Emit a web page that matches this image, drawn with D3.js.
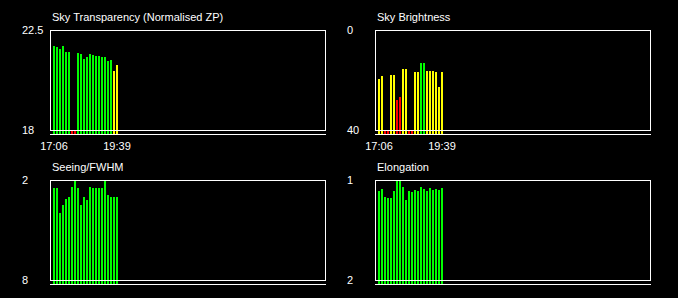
<!DOCTYPE html>
<html>
<head>
<meta charset="utf-8">
<script src="https://cdn.jsdelivr.net/npm/d3@7"></script>
<style>
  html, body { margin: 0; padding: 0; background: #000; }
  svg { display: block; }
  text { font-family: Arial, "Liberation Sans", sans-serif; font-size: 11px; fill: #fff; }
</style>
</head>
<body>
<div id="chart"></div>
<script>
// observation times (one bar each)
const times = ['17:06', '17:13', '17:20', '17:28', '17:35', '17:42', '17:50', '17:57', '18:04', '18:12', '18:19',
  '18:26', '18:33', '18:41', '18:48', '18:55', '19:03', '19:10', '19:17', '19:25', '19:32', '19:39']
const transparency = [21.78, 21.74, 21.65, 21.78, 21.51, 21.51, 17.8, 17.8, 21.47, 21.42, 21.2,
  21.29, 21.42, 21.38, 21.33, 21.33, 21.29, 21.29, 21.11, 21.15, 20.66, 20.93]
const brightness = [19.6, 18.4, 41, 41, 18, 18, 28, 26.8, 15.6, 15.6, 41,
  41, 16.8, 16.8, 13.2, 13.2, 16.4, 16.4, 16.4, 16.8, 22.8, 16.8]
const seeing = [2.48, 2.48, 3.98, 3.5, 3.14, 3.02, 2.42, 2.0, 2.48, 3.5, 3.02,
  3.2, 2.42, 2.48, 2.48, 2.48, 2.48, 2.0, 2.9, 3.02, 3.02, 3.02]
const elongation = [1.11, 1.09, 1.17, 1.18, 1.18, 1.11, 1.0, 1.0, 1.07, 1.2, 1.11,
  1.12, 1.10, 1.11, 1.07, 1.09, 1.11, 1.08, 1.10, 1.09, 1.10, 1.08]
// axis end labels: [top, bottom]
const transparencyTicks = ['22.5', '18']
const brightnessTicks = ['0', '40']
const seeingTicks = ['2', '8']
const elongationTicks = ['1', '2']

const GREEN = '#00ff00'
const YELLOW = '#ffff00'
const RED = '#ff0000'

const svg = d3.select('#chart').append('svg')
  .attr('width', 678)
  .attr('height', 298)

function panel (ox, oy, opts) {
  let g = svg.append('g').attr('transform', `translate(${ox},${oy})`)
  let left = 50
  let w = 275
  let top = 30
  let bottom = 130

  let y = d3.scaleLinear()
    .domain([+opts.ticks[1], +opts.ticks[0]])
    .rangeRound([bottom, top])
    .clamp(true)
  let x = d3.scaleBand()
    .domain(times)
    .range([left + 2, left + 2 + times.length * 3])

  g.append('text')
    .attr('x', left + 2)
    .attr('y', 21)
    .text(opts.title)

  g.selectAll('.bar')
    .data(opts.values)
    .enter()
    .append('rect')
    .attr('class', 'bar')
    .attr('x', (d, i) => x(times[i]) + 1)
    .attr('y', d => y(d))
    .attr('width', 2)
    .attr('height', d => bottom + 5 - y(d))
    .attr('fill', opts.color)

  // frame + baseline (drawn over the bars)
  g.append('rect')
    .attr('x', left + 0.5)
    .attr('y', top + 0.5)
    .attr('width', w)
    .attr('height', bottom - top)
    .attr('fill', 'none')
    .attr('stroke', '#fff')
  g.append('line')
    .attr('x1', left)
    .attr('x2', left + w + 1)
    .attr('y1', bottom + 4.5)
    .attr('y2', bottom + 4.5)
    .attr('stroke', '#fff')

  g.append('text').attr('x', 22).attr('y', top + 4).text(opts.ticks[0])
  g.append('text').attr('x', 22).attr('y', bottom + 4).text(opts.ticks[1])

  if (opts.showTimes) {
    let ends = [times[0], times[times.length - 1]]
    g.selectAll('.time')
      .data(ends)
      .enter()
      .append('text')
      .attr('class', 'time')
      .attr('x', d => x(d) + x.bandwidth() / 2 + 0.5)
      .attr('y', bottom + 20)
      .attr('text-anchor', 'middle')
      .text(d => d)
  }
}

panel(0, 0, {
  title: 'Sky Transparency (Normalised ZP)',
  values: transparency,
  ticks: transparencyTicks,
  showTimes: true,
  color: d => d < 18 ? RED : (d < 21 ? YELLOW : GREEN)
})
panel(325, 0, {
  title: 'Sky Brightness',
  values: brightness,
  ticks: brightnessTicks,
  showTimes: true,
  color: d => d < 14 ? GREEN : (d < 25 ? YELLOW : RED)
})
panel(0, 150, {
  title: 'Seeing/FWHM',
  values: seeing,
  ticks: seeingTicks,
  showTimes: false,
  color: d => d < 4.5 ? GREEN : (d < 6 ? YELLOW : RED)
})
panel(325, 150, {
  title: 'Elongation',
  values: elongation,
  ticks: elongationTicks,
  showTimes: false,
  color: d => d < 1.4 ? GREEN : (d < 1.7 ? YELLOW : RED)
})
</script>
</body>
</html>
